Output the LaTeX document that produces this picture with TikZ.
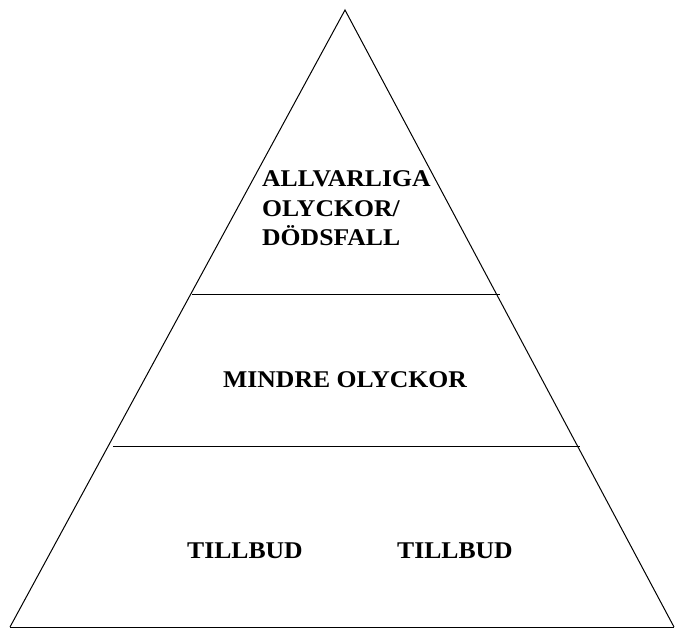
\documentclass[tikz,border=0pt]{standalone}
\usepackage{fontspec}
\setmainfont{Liberation Serif}[FakeStretch=1.07]
\begin{document}
\begin{tikzpicture}[x=1pt,y=-1pt,
  edge/.style={draw=black,line width=1pt},
  lbl/.style={inner sep=0pt,font=\fontsize{24}{29.5}\selectfont\bfseries,anchor=base west}]
\useasboundingbox (0,0) rectangle (675,628);
\coordinate (apex) at (345,10);
\coordinate (bl) at (10,627);
\coordinate (br) at (674,627);
\coordinate (l1a) at (192,295);
\coordinate (l1b) at (500,295);
\coordinate (l2a) at (113,446);
\coordinate (l2b) at (580,446);
\draw[edge] (bl) -- (apex) -- (br);
\draw[edge] (bl) -- (br);
\draw[edge] (l1a) -- (l1b);
\draw[edge] (l2a) -- (l2b);
\node[lbl] (top1) at (262,187) {ALLVARLIGA};
\node[lbl] (top2) at (262,217) {OLYCKOR/};
\node[lbl] (top3) at (262,246) {DÖDSFALL};
\node[lbl] (mid) at (223,388) {MINDRE OLYCKOR};
\node[lbl] (bot1) at (187,558) {TILLBUD};
\node[lbl] (bot2) at (397,558) {TILLBUD};
\end{tikzpicture}
\end{document}
